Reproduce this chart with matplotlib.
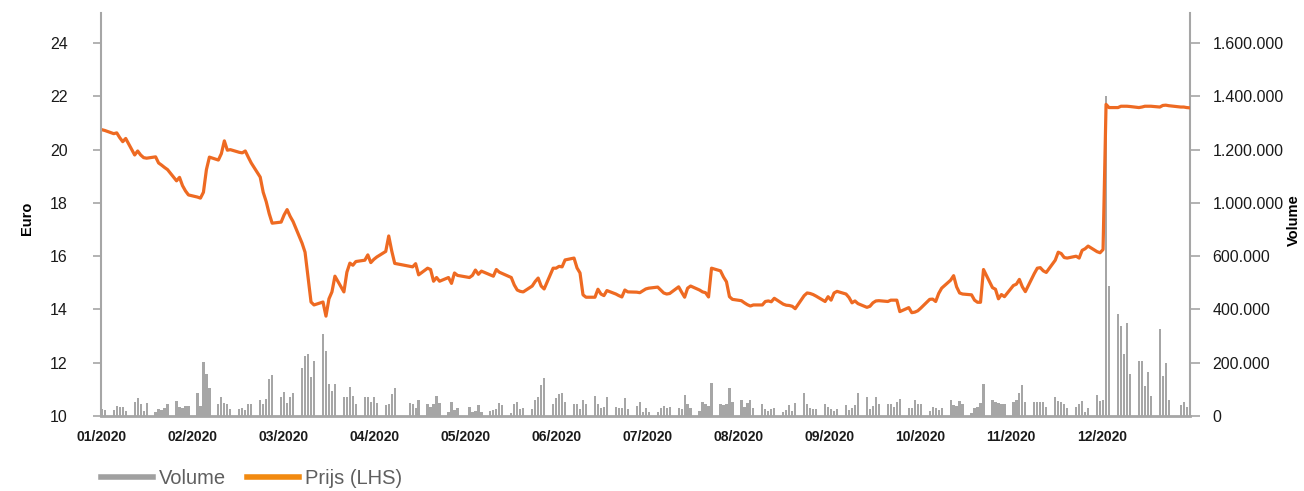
import numpy as np
import matplotlib
matplotlib.use("Agg")
import matplotlib.pyplot as plt
from matplotlib.lines import Line2D

plt.rcParams['font.family'] = ['Liberation Sans', 'DejaVu Sans']

# trading calendar 2020 (weekdays minus exchange holidays)
holidays = ['2020-01-01', '2020-04-10', '2020-04-13', '2020-05-01', '2020-12-25']

month_labels = ['01/2020', '02/2020', '03/2020', '04/2020', '05/2020', '06/2020',
                '07/2020', '08/2020', '09/2020', '10/2020', '11/2020', '12/2020']

# closing price in euro, one value per trading day
price = [
    # jan
    20.75, 20.72, 20.60, 20.63, 20.45, 20.30, 20.42, 19.80, 19.95, 19.80, 19.70,
    19.68, 19.73, 19.50, 19.42, 19.33, 19.25, 18.83, 18.96, 18.65, 18.45, 18.30,
    # feb
    18.22, 18.18, 18.40, 19.25, 19.72, 19.61, 19.85, 20.33, 19.98, 20.00,
    19.90, 19.88, 19.95, 19.72, 19.50, 18.97, 18.40, 18.05, 17.60, 17.24,
    # mar
    17.28, 17.55, 17.75, 17.50, 17.30, 16.49, 16.15, 15.20, 14.28, 14.17, 14.28,
    13.75, 14.40, 14.66, 15.25, 14.66, 15.40, 15.74, 15.66, 15.80, 15.85, 16.05,
    # apr
    15.76, 15.88, 15.97, 16.18, 16.76, 16.20, 15.73, 15.62, 15.60, 15.72,
    15.30, 15.55, 15.50, 15.06, 15.20, 15.06, 15.20, 14.98, 15.37, 15.28,
    # may
    15.20, 15.28, 15.48, 15.32, 15.44, 15.30, 15.25, 15.50, 15.40, 15.35,
    15.20, 14.92, 14.73, 14.68, 14.66, 14.88, 15.05, 15.18, 14.88, 14.77,
    # jun
    15.55, 15.55, 15.62, 15.60, 15.86, 15.93, 15.56, 15.37, 14.55, 14.46, 14.46,
    14.76, 14.58, 14.52, 14.71, 14.58, 14.52, 14.47, 14.73, 14.66, 14.65, 14.63,
    # jul
    14.70, 14.77, 14.80, 14.84, 14.73, 14.62, 14.58, 14.60, 14.85, 14.65, 14.46, 14.80,
    14.88, 14.73, 14.66, 14.63, 14.47, 15.55, 15.45, 15.22, 15.04, 14.48, 14.38,
    # aug
    14.33, 14.25, 14.18, 14.13, 14.17, 14.17, 14.30, 14.32, 14.29, 14.42, 14.20,
    14.16, 14.15, 14.12, 14.03, 14.52, 14.62, 14.60, 14.56, 14.50, 14.30,
    # sep
    14.48, 14.35, 14.62, 14.68, 14.58, 14.45, 14.25, 14.32, 14.22, 14.08, 14.12,
    14.25, 14.32, 14.33, 14.30, 14.35, 14.35, 14.35, 13.92, 14.07, 13.88, 13.90,
    # oct
    13.95, 14.05, 14.38, 14.39, 14.30, 14.60, 14.80, 15.10, 15.27, 14.85, 14.62,
    14.58, 14.55, 14.35, 14.27, 14.27, 15.50, 14.82, 14.76, 14.40, 14.56, 14.48,
    # nov
    14.90, 14.95, 15.13, 14.85, 14.67, 15.35, 15.55, 15.57, 15.45, 15.39, 15.85,
    16.15, 16.10, 15.95, 15.93, 16.00, 15.93, 16.22, 16.28, 16.38, 16.17,
    # dec
    16.13, 16.25, 21.70, 21.58, 21.58, 21.63, 21.63, 21.63, 21.62, 21.58, 21.60,
    21.63, 21.63, 21.63, 21.60, 21.66, 21.67, 21.65, 21.60, 21.60, 21.58, 21.57,
]

# traded volume in thousands of shares, one value per trading day
volume = [
    # jan
    25, 22, 22, 37, 35, 32, 20, 52, 66, 47, 20, 50, 15, 25, 22, 30, 44, 56, 35, 30, 37, 37,
    # feb
    85, 37, 204, 158, 106, 45, 70, 50, 44, 26, 27, 30, 22, 47, 45, 60, 47, 64, 140, 154,
    # mar
    72, 91, 50, 72, 85, 181, 225, 232, 148, 208, 306, 244, 119, 95, 119, 70, 70, 110, 75, 47, 70, 72,
    # apr
    54, 70, 50, 42, 45, 82, 105, 50, 45, 31, 62, 47, 35, 47, 76, 50, 16, 51, 22, 29,
    # may
    32, 16, 20, 40, 15, 19, 22, 25, 50, 40, 12, 47, 51, 27, 29, 25, 60, 70, 115, 143,
    # jun
    47, 66, 82, 85, 54, 45, 47, 25, 62, 47, 75, 45, 29, 35, 70, 35, 29, 31, 66, 25, 37, 54,
    # jul
    16, 29, 16, 16, 29, 37, 29, 32, 29, 25, 79, 47, 29, 20, 52, 45, 37, 123, 47, 41, 47, 104, 54,
    # aug
    62, 32, 50, 60, 29, 47, 27, 20, 25, 29, 16, 22, 41, 20, 50, 88, 45, 29, 25, 25, 45,
    # sep
    35, 25, 20, 25, 41, 22, 29, 41, 85, 70, 25, 37, 72, 47, 47, 45, 32, 54, 65, 29, 30, 60,
    # oct
    45, 45, 20, 35, 29, 22, 29, 60, 41, 37, 57, 45, 12, 29, 32, 50, 120, 62, 51, 50, 47, 47,
    # nov
    54, 60, 88, 115, 51, 54, 54, 51, 51, 35, 70, 57, 51, 47, 29, 35, 47, 56, 16, 29, 79,
    # dec
    56, 62, 1201, 488, 383, 338, 233, 348, 158, 206, 206, 113, 166, 75, 325, 151, 200, 60, 41, 54, 35, 35,
]

euro_ticks = [10, 12, 14, 16, 18, 20, 22, 24]
vol_ticks = [0, 200, 400, 600, 800, 1000, 1200, 1400]
vol_labels = ['0', '200.000', '400.000', '600.000', '1.000.000', '1.200.000', '1.400.000', '1.600.000']

days = np.arange('2020-01-02', '2021-01-01', dtype='datetime64[D]')
days = days[np.is_busday(days, holidays=holidays)]
x = (days - days[0]).astype(int)

grey = '#A6A6A6'
orange = '#EE6A22'

fig = plt.figure(figsize=(13.04, 4.91), dpi=100)
ax = fig.add_axes([0.0775, 0.1527, 0.8351, 0.8208])
ax2 = ax.twinx()
ax.set_zorder(ax2.get_zorder() + 1)
ax.patch.set_visible(False)

ax2.bar(x, volume, width=0.75, color=grey, linewidth=0)
ax.plot(x, price, color=orange, lw=2.3, solid_joinstyle='round')

ax.set_xlim(-0.25, x[-1] + 0.1)
ax.set_ylim(10, 25.13)
ax2.set_ylim(0, 1512.5)

ax.set_xticks([k * 365 / 12 for k in range(12)])
ax.set_xticklabels(month_labels)
ax.set_yticks(euro_ticks)
ax2.set_yticks(vol_ticks)
ax2.set_yticklabels(vol_labels)

for s in ['top', 'right']:
    ax.spines[s].set_visible(False)
for s in ['top', 'left', 'bottom']:
    ax2.spines[s].set_visible(False)
ax.spines['left'].set_color(grey)
ax.spines['left'].set_linewidth(1.5)
ax.spines['bottom'].set_color(grey)
ax.spines['bottom'].set_linewidth(2)
ax2.spines['right'].set_color(grey)
ax2.spines['right'].set_linewidth(1.5)

ax.tick_params(axis='x', length=0, pad=10, labelsize=10, labelcolor='#1a1a1a')
ax.tick_params(axis='y', length=6, width=1.2, color=grey, pad=18, labelsize=11.5,
               labelcolor='#1a1a1a')
ax2.tick_params(axis='y', length=7, width=1.2, color=grey, pad=9, labelsize=11.5,
                labelcolor='#1a1a1a')
for lab in ax.get_xticklabels():
    lab.set_fontweight('bold')

fig.text(27 / 1304, 1 - 218 / 491, 'Euro', rotation=90, ha='center', va='center',
         fontsize=10.5, fontweight='bold')
fig.text(1294 / 1304, 1 - 220 / 491, 'Volume', rotation=90, ha='center', va='center',
         fontsize=10.5, fontweight='bold')

handles = [Line2D([], [], color='#A0A0A0', lw=4),
           Line2D([], [], color='#F28A10', lw=4)]
fig.legend(handles, ['Volume', 'Prijs (LHS)'], loc='center left',
           bbox_to_anchor=(101 / 1304, 1 - 479 / 491), ncol=2, frameon=False,
           fontsize=14.5, handlelength=2.6, handletextpad=0.3, columnspacing=1.0,
           borderpad=0, borderaxespad=0, labelcolor='#5f5f5f')

fig.savefig('out.png', dpi=100)
